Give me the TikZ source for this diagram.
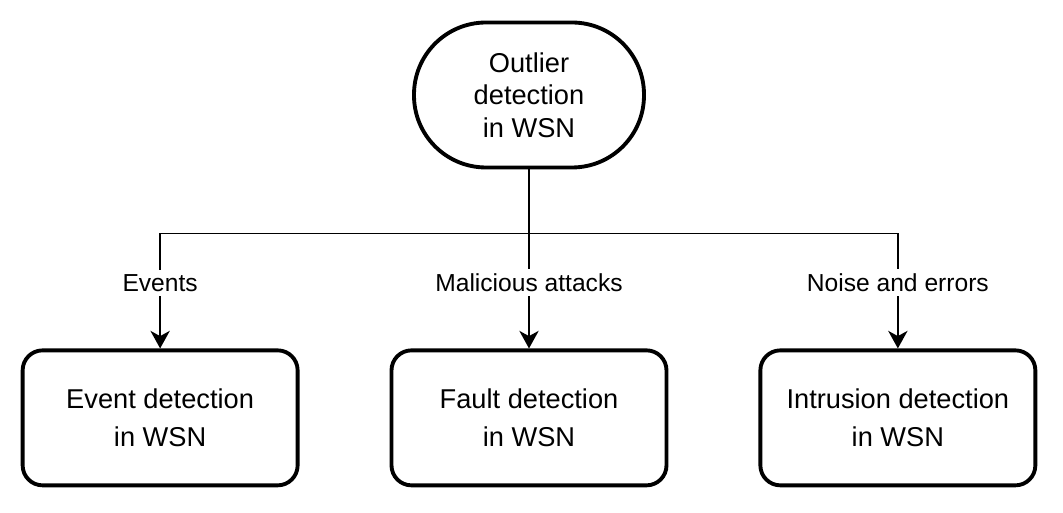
\documentclass[tikz,border=0pt]{standalone}
\usepackage{fontspec}
\setmainfont{Liberation Sans}
\usetikzlibrary{positioning,arrows.meta}

\begin{document}
\begin{tikzpicture}[
  root/.style={draw, line width=2.2pt, rounded corners=1.44cm, minimum width=4.6cm, minimum height=2.9cm, align=center, font=\fontsize{15.5}{18.5}\selectfont},
  leaf/.style={draw, line width=2.2pt, rounded corners=0.4cm, minimum width=5.5cm, minimum height=2.7cm, align=center, font=\fontsize{15.5}{22}\selectfont},
  link/.style={line width=1pt},
  tag/.style={fill=white, inner sep=2.5pt, font=\fontsize{14}{16}\selectfont}
]
\useasboundingbox (0,0) rectangle (21.26,-10.26);
\node[root] (outlier) at (10.58,-1.9) {Outlier\\detection\\in WSN};
\node[leaf, below=3.58cm of outlier] (fault) {Fault detection\\in WSN};
\node[leaf, left=1.8cm of fault] (event) {Event detection\\in WSN};
\node[leaf, right=1.8cm of fault] (intrusion) {Intrusion detection\\in WSN};
\coordinate[below=1.28cm of outlier] (split);
\draw[link] (outlier) -- (split);
\draw[link, -{Stealth[length=10pt, width=11pt, inset=3pt]}] (split) -| node[tag, pos=0.715] {Events} (event);
\draw[link, -{Stealth[length=10pt, width=11pt, inset=3pt]}] (split) -- node[tag, pos=0.43] {Malicious attacks} (fault);
\draw[link, -{Stealth[length=10pt, width=11pt, inset=3pt]}] (split) -| node[tag, pos=0.715] {Noise and errors} (intrusion);
\end{tikzpicture}
\end{document}
